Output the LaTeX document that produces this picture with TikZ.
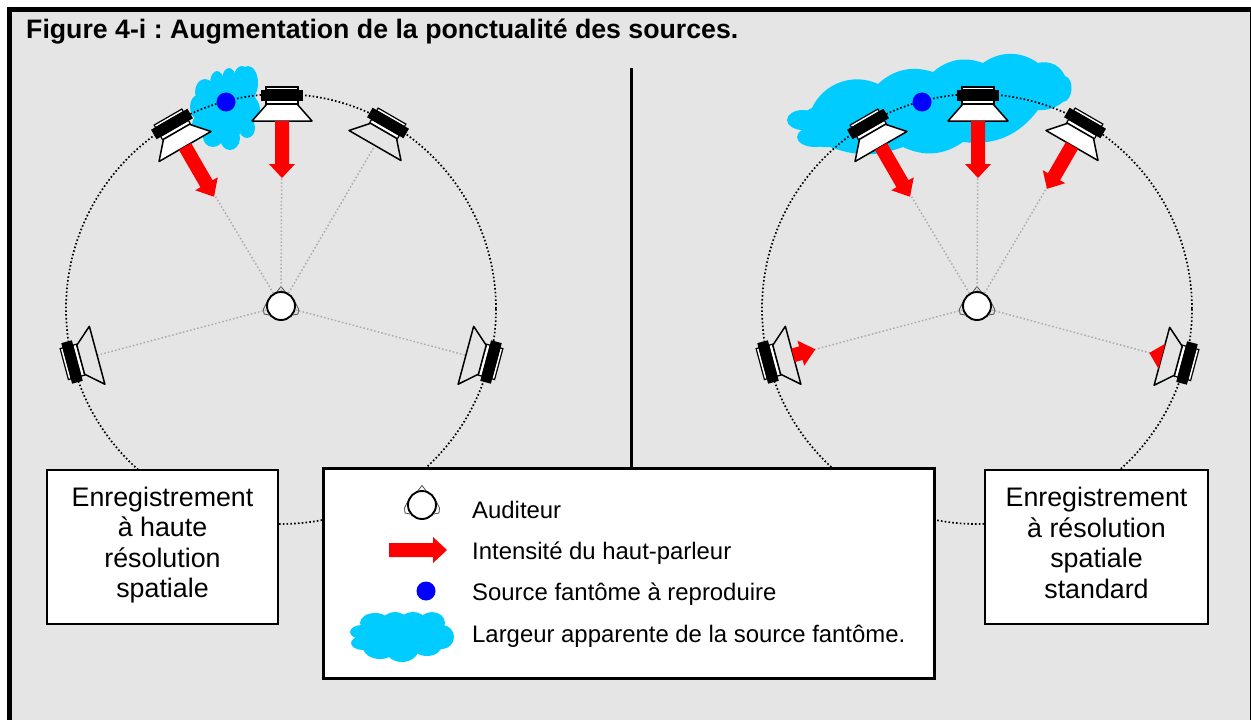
\documentclass[tikz,border=0pt]{standalone}
\usepackage{fontspec}
\setmainfont{Liberation Sans}
\frenchspacing

\definecolor{bggray}{HTML}{E5E5E5}
\definecolor{puffblue}{HTML}{00CCFF}

\newcommand{\puffs}[1]{\foreach \cx/\cy/\rx/\ry in {#1}
	\fill[puffblue] (\cx,\cy) ellipse [x radius = \rx, y radius = \ry];}

\tikzset{
	ring/.style = {line width = 1.7pt, dash pattern = on 1.6pt off 2.2pt},
	ray/.style = {line width = 1.5pt, color = black!33, dash pattern = on 1.5pt off 2.2pt},
	phantom/.style = {circle, fill = blue, inner sep = 0pt, minimum size = 19pt},
	ball/.style = {circle, draw, fill = white, line width = 1.9pt, inner sep = 0pt, minimum size = 28pt},
	infobox/.style = {draw, fill = white, line width = 1.5pt, align = center, inner sep = 0pt, font = \fontsize{26.8}{30.6}\selectfont},
	entry/.style = {anchor = base west, inner sep = 0pt, font = \fontsize{23.9}{28}\selectfont},
	pics/speaker/.style = {code = {
		\draw[fill = white, line width = 1.2pt] (-16,-8) rectangle (16,-5);
		\draw[fill = white, line width = 1.2pt] (-16,5) rectangle (16,9);
		\fill (-21,-5.5) rectangle (21,5.5);
		\draw[fill = #1, line width = 1.5pt, line join = round] (-15,9) -- (15,9) -- (30,26) -- (-30,26) -- cycle;
	}},
	pics/beam/.style 2 args = {code = {
		\fill[red] (-7,26) -- (-7,#1) -- (-13,#1) -- (0,#2) -- (13,#1) -- (7,#1) -- (7,26) -- cycle;
	}},
	pics/listener/.style = {code = {
		\draw[line width = 0.8pt, black!70] (-5,-13) -- (0,-19.5) -- (5,-13);
		\draw[line width = 0.8pt, black!70] (-14,-4) -- (-17.5,3) -- (-17,8) -- (-12,9);
		\draw[line width = 0.8pt, black!70] (14,-4) -- (17.5,3) -- (17,8) -- (12,9);
		\node[ball] (-ball) at (0,0) {};
	}},
}

\begin{document}
\begin{tikzpicture}[x = 1pt, y = -1pt]
	\clip (0,0) rectangle (1251,720);
	\fill[white] (0,0) rectangle (1251,720);
	\draw[fill = bggray, line width = 5pt] (9.5,9.5) rectangle (1252.5,730);
	\node[anchor = base west, inner sep = 0pt, font = \fontsize{26.7}{30}\selectfont\bfseries] (title) at (26,38) {Figure 4-i : Augmentation de la ponctualité des sources.};

	% clouds
	\puffs{242/77/8/11, 229/80/7/12, 217/83/7/12, 205/92/10/13, 198/107/8/12, 200/125/8/10, 213/137/10/10, 230/138/10/12, 247/128/8/10, 248/83/10/17, 227/107/30/30, 250/110/10/14}
	\puffs{803/120/16/10, 815/137/18/10}
	\fill[puffblue] (803,130) to[bend left = 50] (812,108) to[bend left = 45] (878,84) to[bend left = 30] (933,72) to[bend left = 30] (983,63) to[bend left = 35] (1038,63) to[bend left = 40] (1065,76) to[bend left = 80] (1063,102) to[bend left = 20] (1038,110) to[bend left = 30] (963,142) to[bend left = 30] (903,147) to[bend left = 20] (830,147) to[bend left = 40] (803,130) -- cycle;

	% circles of speakers
	\coordinate (centerL) at (281,309);
	\coordinate (centerR) at (977,309);
	\draw[ring] (centerL) circle (215);
	\draw[ring] (centerR) circle (215);

	\pic (headL) at (281,306) {listener};
	\pic (headR) at (977,306) {listener};

	\coordinate (L1) at (72,362);
	\coordinate (L2) at (172,124);
	\coordinate (L3) at (282,95);
	\coordinate (L4) at (388,123);
	\coordinate (L5) at (491,362);
	\coordinate (R1) at (768,362);
	\coordinate (R2) at (868,124);
	\coordinate (R3) at (978,95);
	\coordinate (R4) at (1085,123);
	\coordinate (R5) at (1187,363);

	\foreach \spk in {L1, L2, L3, L4, L5}
		\draw[ray] (headL-ball) -- (\spk);
	\foreach \spk in {R1, R2, R3, R4, R5}
		\draw[ray] (headR-ball) -- (\spk);

	\pic[rotate = 105] at (L1) {speaker = bggray};
	\pic[rotate = 30] at (L2) {speaker = white};
	\pic at (L3) {speaker = white};
	\pic[rotate = -30] at (L4) {speaker = bggray};
	\pic[rotate = -105] at (L5) {speaker = bggray};
	\pic[rotate = 105] at (R1) {speaker = bggray};
	\pic[rotate = 30] at (R2) {speaker = white};
	\pic at (R3) {speaker = white};
	\pic[rotate = -30] at (R4) {speaker = white};
	\pic[rotate = -105] at (R5) {speaker = bggray};

	\pic[rotate = 30] at (L2) {beam = {69}{84}};
	\pic at (L3) {beam = {69}{83}};
	\pic[rotate = 105] at (R1) {beam = {34}{49}};
	\pic[rotate = 30] at (R2) {beam = {69}{84}};
	\pic at (R3) {beam = {69}{83}};
	\pic[rotate = -30] at (R4) {beam = {62}{76}};
	\pic[rotate = -105] at (R5) {beam = {26}{39}};

	\node[phantom] (srcL) at (226,102) {};
	\node[phantom] (srcR) at (922,102) {};

	% boxes
	\node[infobox, minimum width = 231pt, minimum height = 154pt] (boxL) at (162.5,547) {Enregistrement\\à haute\\résolution\\spatiale\par\vspace{4pt}};
	\node[infobox, minimum width = 223pt, minimum height = 154pt] (boxR) at (1096.5,547) {Enregistrement\\à résolution\\spatiale\\standard\par\vspace{8pt}};
	\node[draw, fill = white, line width = 3pt, minimum width = 611pt, minimum height = 210pt] (legend) at (628.5,573) {};
	\coordinate (divTop) at (631,68);
	\draw[line width = 3pt] (divTop) -- (legend.north -| divTop);

	% legend
	\pic (headK) at (422,505) {listener};
	\pic[rotate = 90] at (363,550) {beam = {70}{84}};
	\node[phantom] (srcK) at (426,591) {};
	\puffs{362/632/12/7, 375/623/15/10, 395/622/13/10, 413/620/12/8, 432/623/13/11, 442/637/12/12, 363/643/12/7, 380/647/17/12, 402/648/17/14, 427/645/15/11, 402/635/40/17}
	\node[entry] (txtA) at (472,518) {Auditeur};
	\node[entry] (txtB) at (472,559) {Intensité du haut-parleur};
	\node[entry] (txtC) at (472,600) {Source fantôme à reproduire};
	\node[entry] (txtD) at (472,642) {Largeur apparente de la source fantôme.};
\end{tikzpicture}
\end{document}
